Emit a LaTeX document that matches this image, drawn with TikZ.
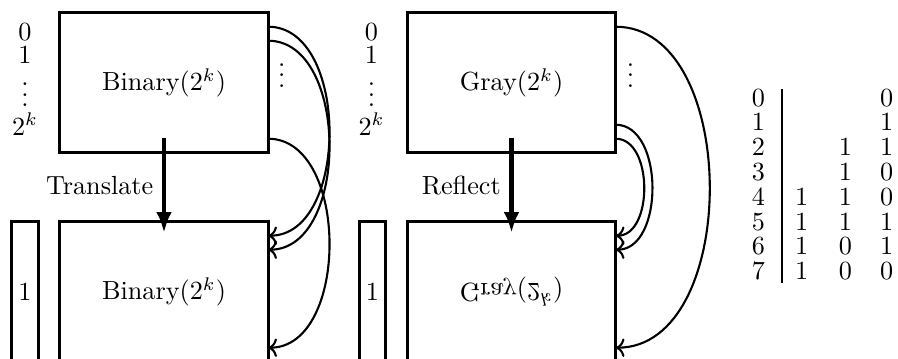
\documentclass[tikz,border=0pt]{standalone}
\usetikzlibrary{arrows.meta,calc}
\newcommand{\myvdots}{\vbox{\baselineskip4pt\lineskiplimit0pt\hbox{.}\hbox{.}\hbox{.}}}
\begin{document}
\begin{tikzpicture}[x=0.3817pt,y=-0.3817pt,
  bigbox/.style={draw,line width=1.2pt,inner sep=0pt,outer sep=0pt,
    minimum width=79.5pt,minimum height=53.44pt},
  thinbox/.style={draw,line width=1.2pt,inner sep=0pt,outer sep=0pt,
    minimum width=10.15pt,minimum height=53.44pt},
  wire/.style={thick,->},
  bigarrow/.style={line width=1.6pt,-{Latex[length=8pt,width=6pt]}},
  lbl/.style={anchor=base,inner sep=0pt},
  opname/.style={left,inner sep=3.3pt}
]
\useasboundingbox (0,0) rectangle (898,358);
\clip (0,0) rectangle (898,358);

% ---------- left part: Binary ----------
\node[bigbox] (A) at (164,82.7) {Binary$(2^k)$};
\node[bigbox] (B) at (164,291.7) {Binary$(2^k)$};
\node[thinbox] (NL) at (25,291.7) {1};

\node[lbl] (l0) at (25,40) {0};
\node[lbl] (l1) at (25,63.3) {1};
\node[lbl] (ld) at (25,106.5) {\myvdots};
\node[lbl] (lk) at (25,135) {$2^k$};
\node[lbl] (ad) at (281.7,87.3) {\myvdots};

\draw[bigarrow] ($(A.south)+(0,-14.7)$) -- ($(B.north)+(0,11.3)$)
  node[midway,opname] (tr) {Translate};

\draw[wire] ($(A.north east)!.1!(A.south east)$) to[out=0,in=0] ($(B.north east)!.1!(B.south east)$);
\draw[wire] ($(A.north east)!.2!(A.south east)$) to[out=0,in=0] ($(B.north east)!.2!(B.south east)$);
\draw[wire] ($(A.north east)!.9!(A.south east)$) to[out=0,in=0] ($(B.north east)!.9!(B.south east)$);

% ---------- middle part: Gray ----------
\node[bigbox] (C) at (511.5,82.7) {Gray$(2^k)$};
\node[bigbox] (D) at (511.5,291.7) {\scalebox{1}[-1]{Gray$(2^k)$}};
\node[thinbox] (NR) at (372.4,291.7) {1};

\node[lbl] (r0) at (371.5,40) {0};
\node[lbl] (r1) at (371.5,63.3) {1};
\node[lbl] (rd) at (371.5,106.5) {\myvdots};
\node[lbl] (rk) at (371.5,135) {$2^k$};
\node[lbl] (cd) at (630.5,87.3) {\myvdots};

\draw[bigarrow] ($(C.south)+(0,-14.7)$) -- ($(D.north)+(0,11.3)$)
  node[midway,opname] (rf) {Reflect};

\draw[wire] ($(C.north east)!.1!(C.south east)$) to[out=0,in=0] ($(D.north east)!.9!(D.south east)$);
\draw[wire] ($(C.north east)!.8!(C.south east)$) to[out=0,in=0] ($(D.north east)!.2!(D.south east)$);
\draw[wire] ($(C.north east)!.9!(C.south east)$) to[out=0,in=0] ($(D.north east)!.1!(D.south east)$);

% ---------- table ----------
\coordinate (tt) at (782,89);
\coordinate (tb) at (782,283);
\draw[line width=1pt] (tt) -- (tb);
\foreach \i/\a/\b/\c in {0///0,1///1,2//1/1,3//1/0,4/1/1/0,5/1/1/1,6/1/0/1,7/1/0/0}{
  \node[lbl] (t\i) at (758.5,106+24.8*\i) {\i};
  \node[lbl] (ta\i) at (801.7,106+24.8*\i) {\a};
  \node[lbl] (tb\i) at (845.3,106+24.8*\i) {\b};
  \node[lbl] (tc\i) at (886.7,106+24.8*\i) {\c};
}
\end{tikzpicture}
\end{document}
